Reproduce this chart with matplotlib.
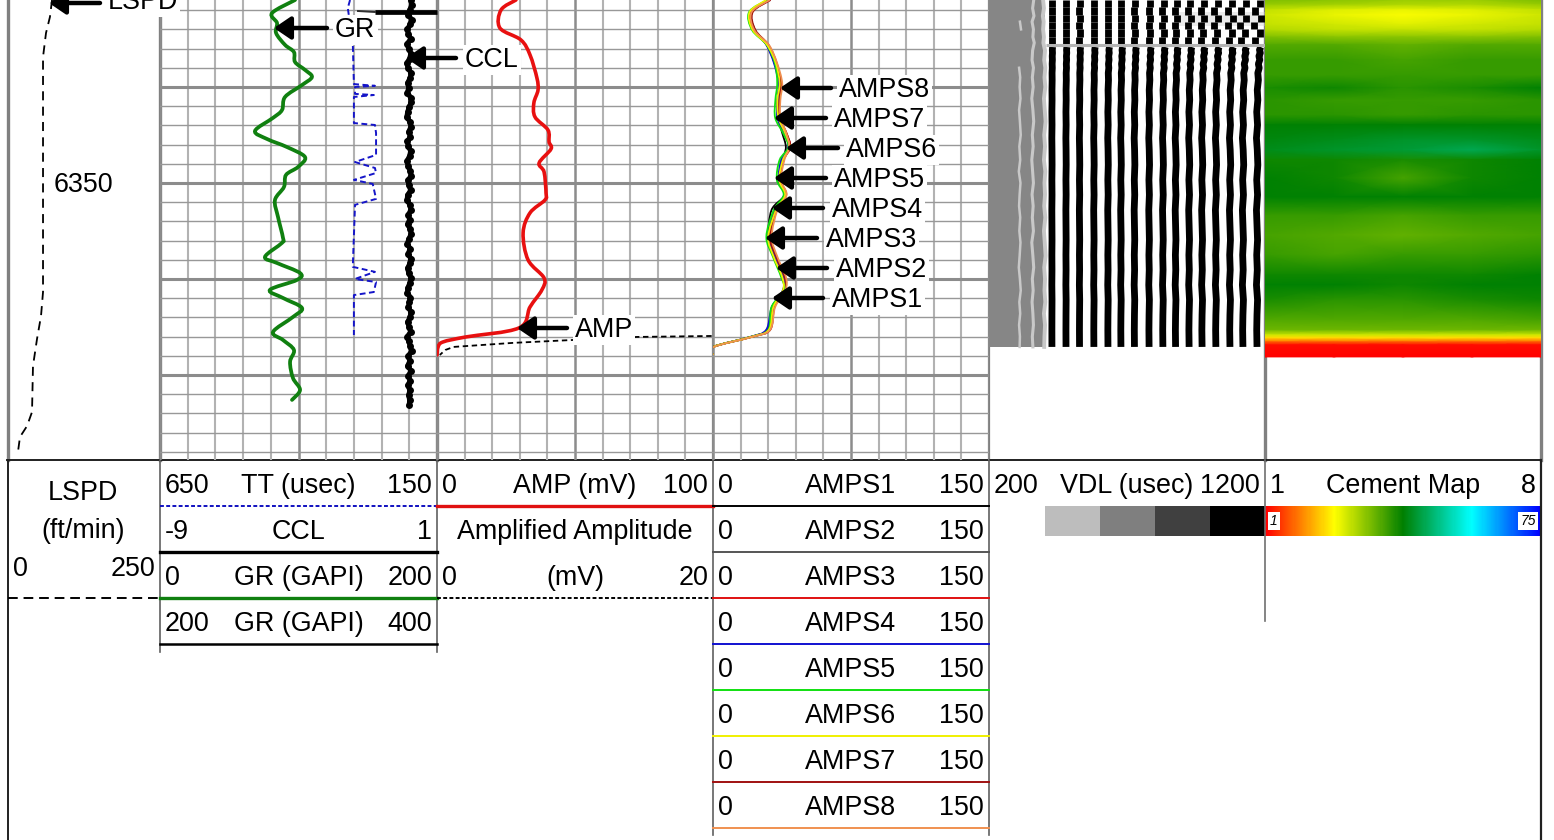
import numpy as np
import matplotlib
matplotlib.use("Agg")
import matplotlib.pyplot as plt
from matplotlib.colors import LinearSegmentedColormap
from matplotlib.patches import PathPatch
from matplotlib.path import Path

plt.rcParams['font.family'] = ['Liberation Sans', 'DejaVu Sans']

W, H = 1554, 840
LOG_BOTTOM = 460
DEPTH_TOP, DEPTH_BOTTOM = 6254.7, 6494.3

# LSPD (ft/min)
lspd_depth = [6254.7, 6263.5, 6271.9, 6284.4, 6298.0, 6374.0, 6406.8, 6419.3,
              6431.3, 6445.3, 6469.3, 6476.6, 6482.3, 6490.1]
lspd = [72.4, 69.0, 62.5, 57.6, 57.6, 57.6, 57.6, 54.3, 47.7, 41.1, 39.5,
        31.3, 19.7, 16.4]

# GR (GAPI), 0-200
gr_depth = [6254.7, 6261.5, 6266.7, 6271.9, 6278.1, 6281.8, 6287.0, 6291.1,
            6294.8, 6299.0, 6305.2, 6312.0, 6316.1, 6322.9, 6327.1, 6331.3,
            6336.5, 6341.7, 6345.8, 6352.1, 6358.9, 6367.7, 6378.6, 6381.2,
            6388.5, 6391.7, 6396.9, 6400.5, 6405.7, 6409.9, 6415.1, 6419.8,
            6427.6, 6431.8, 6437.0, 6443.2, 6451.6, 6457.8, 6463.0]
gr = [97.5, 80.9, 84.5, 83.8, 90.3, 96.7, 97.5, 104.7, 109.7, 102.5, 90.3,
      88.1, 81.6, 68.6, 77.3, 91.7, 104.7, 99.6, 91.0, 89.5, 83.0, 85.2, 88.8,
      88.1, 75.8, 84.5, 101.1, 98.9, 79.4, 88.8, 102.5, 96.0, 81.6, 88.8, 96.7,
      93.9, 96.0, 101.1, 95.3]

# TT (usec), 650-150
tt_depth = [6254.7, 6258.9, 6277.1, 6298.5, 6299.4, 6300.0, 6303.6, 6304.2,
            6305.2, 6318.8, 6319.8, 6324.0, 6335.4, 6339.1, 6342.2, 6344.8,
            6348.4, 6350.5, 6358.3, 6361.4, 6393.7, 6396.3, 6400.0, 6401.6,
            6406.8, 6408.4, 6429.2]
tt = [307, 311, 302, 300, 262, 298, 298, 264, 300, 300, 262, 260, 260, 298,
      262, 260, 300, 266, 260, 298, 302, 262, 298, 260, 264, 300, 300]

# CCL, -9 to 1
ccl = [0.06, 0.09, 0.02, -0.04, 0.08, 0.03, -0.07, -0.03, 0.05, -0.08, -0.02,
       0.06, 0.01, -0.09, -0.04, 0.07, 0.03, -0.06, -0.02, -0.07, 0.05, 0.07,
       -0.01, -0.06, -0.09, 0.03, 0.06, -0.02, 0.04, -0.07, -0.03, 0.05, 0.01,
       -0.08, -0.04, 0.03, 0.07, -0.05, -0.01, 0.05, -0.06, -0.08, 0.02, 0.06,
       -0.03, 0.01, -0.06, 0.04, 0.07, -0.02, -0.07, 0.03, -0.04, 0.05, 0.02,
       -0.06, -0.02, 0.07, 0.02, -0.05, -0.07, 0.04, 0.00, -0.03, 0.06, 0.03,
       -0.06, -0.01, 0.05, -0.07, -0.02, 0.04, 0.08, -0.04, 0.02, -0.06, 0.06,
       -0.03, 0.03, -0.05, 0.02, -0.02, 0.01, 0.00]

# AMP (mV), 0-100 and amplified amplitude, 0-20
amp_depth = [6254.7, 6259.9, 6269.3, 6275.5, 6283.3, 6295.3, 6301.6, 6308.3,
             6315.6, 6322.4, 6328.6, 6332.3, 6339.6, 6344.3, 6355.2, 6358.9,
             6365.6, 6376.0, 6390.1, 6399.5, 6405.7, 6414.6, 6425.5, 6430.2,
             6432.8, 6435.4, 6439.6]
amp = [28.6, 23.2, 22.8, 30.4, 33.7, 36.2, 36.6, 35.1, 35.5, 40.2, 40.6, 41.3,
       37.0, 38.8, 39.5, 39.1, 33.7, 31.2, 33.0, 38.8, 38.0, 33.7, 29.7, 10.5,
       2.2, 0.4, 0.0]
amp2_depth = [6429.7, 6430.2, 6431.8, 6433.3, 6435.4, 6437.0, 6439.6]
amp2 = [19.9, 14.5, 9.8, 5.5, 1.2, 0.6, 0.2]

# AMPS1-8, 0-150
amps_depth = [6254.7, 6261.0, 6270.3, 6278.1, 6287.5, 6297.9, 6306.8, 6316.1,
              6323.9, 6331.3, 6338.0, 6348.4, 6356.2, 6364.1, 6378.1, 6388.5,
              6398.9, 6405.7, 6414.6, 6426.5, 6430.2, 6435.4, 6439.6]
amps1 = [30.9, 21.2, 22.6, 29.2, 33.4, 36.0, 35.0, 35.4, 37.6, 39.6, 37.8,
         35.6, 38.8, 31.8, 30.2, 33.2, 38.0, 38.6, 32.2, 29.4, 20.4, 0.2, 0.0]
amps2 = [30.2, 21.0, 22.9, 29.8, 34.2, 36.6, 35.6, 35.7, 39.6, 41.1, 37.2,
         36.2, 39.4, 33.3, 30.8, 34.0, 38.5, 38.0, 32.9, 30.7, 20.9, 0.1, 0.0]
amps3 = [30.6, 20.4, 22.0, 30.0, 34.0, 36.9, 36.2, 36.0, 39.8, 42.0, 38.4,
         36.8, 39.6, 34.2, 31.2, 34.6, 39.2, 39.0, 33.0, 30.2, 20.6, 0.0, 0.0]
amps4 = [29.8, 20.8, 22.5, 29.0, 33.1, 35.6, 35.2, 35.0, 38.8, 40.9, 37.0,
         35.8, 38.6, 34.0, 30.0, 33.5, 38.1, 38.2, 32.0, 28.9, 20.1, 0.3, 0.0]
amps5 = [29.4, 19.6, 21.2, 29.2, 33.6, 34.9, 33.9, 33.8, 38.0, 41.0, 36.2,
         34.7, 38.4, 33.0, 29.0, 32.6, 37.0, 38.6, 31.8, 30.0, 20.4, 0.1, 0.0]
amps6 = [28.9, 19.9, 21.6, 29.4, 34.1, 36.2, 35.0, 35.6, 39.2, 41.6, 38.0,
         36.0, 39.2, 34.3, 30.0, 33.0, 37.6, 38.1, 32.8, 30.4, 20.8, 0.2, 0.0]
amps7 = [31.3, 21.6, 23.0, 30.2, 34.6, 37.0, 36.1, 36.3, 39.9, 42.0, 38.3,
         36.5, 39.8, 34.6, 31.1, 34.4, 38.9, 39.0, 33.4, 31.1, 21.2, 0.3, 0.0]
amps8 = [30.8, 21.0, 22.4, 30.4, 34.8, 37.6, 36.6, 36.7, 39.8, 41.4, 38.8,
         37.0, 40.0, 35.0, 31.9, 35.0, 39.6, 39.4, 33.8, 31.0, 21.0, 0.4, 0.0]

# VDL arrivals (usec) and their shift with depth
vdl_arrivals = [428, 479, 528, 580, 631, 678, 727, 780, 830, 876, 925, 972,
                1022, 1073, 1120, 1171]
vdl_depth = [6279.2, 6280.7, 6282.3, 6283.9, 6285.9, 6288.0, 6290.1, 6292.7,
             6296.4, 6301.6, 6306.8, 6313.0, 6319.8, 6326.6, 6332.8, 6340.6,
             6348.4, 6356.2, 6364.1, 6371.9, 6379.7, 6387.5, 6395.3, 6403.1,
             6410.9, 6418.7, 6426.6, 6435.4]
vdl_shift = [14, 9, 12, 7, 10, 5, 8, 3, 5, 1, 3, -1, 2, -2, 1, 3, -1, 2, -2, 0,
             2, -1, 1, -2, 2, 0, -1, 0]
vdl_top_depth = [6254.7, 6258.5, 6262.3, 6266.1, 6270.0, 6273.8, 6277.6]
vdl_top_shift = [12, -9, 14, -11, 10, -7]
vdl_pale_depth = [6254.7, 6259, 6263, 6266, 6270, 6274, 6277, 6281, 6286, 6290,
                  6295, 6300, 6306, 6312, 6318, 6325, 6331, 6338, 6344, 6350,
                  6356, 6362, 6368, 6375, 6381, 6388, 6394, 6400, 6406, 6412,
                  6418, 6424, 6430, 6435.4]
vdl_pale1 = [np.nan, 309, np.nan, 312, 316, np.nan, np.nan, 311, np.nan, 309,
             313, 311, 314, 309, 312, 315, 310, 313, 308, 314, 311, 309, 313,
             310, 314, 311, 308, 312, 315, 310, 313, 309, 312, 311]
vdl_pale2 = [362, 358, 363, 356, 361, 359, 364, 358, 356, 361, 357, 360, 355,
             359, 362, 357, 360, 355, 358, 361, 356, 360, 357, 361, 355, 359,
             362, 357, 360, 356, 359, 361, 357, 359]
vdl_pale3 = [396, 399, 395, 398, 396, 399, 397, 403, 400, 404, 401, 404, 399,
             402, 405, 400, 403, 399, 404, 401, 403, 400, 404, 399, 402, 405,
             400, 403, 401, 404, 399, 403, 401, 400]

# Cement map, 1-75, one row per depth
cement_depth = [6254.7, 6257.3, 6259.9, 6262.5, 6267.7, 6270.3, 6274.0, 6278.1,
                6285.9, 6293.8, 6300.5, 6306.8, 6314.6, 6319.8, 6327.6, 6332.8,
                6338.0, 6347.4, 6357.3, 6366.7, 6377.1, 6387.5, 6397.9, 6403.1,
                6410.9, 6421.4, 6426.6, 6429.2, 6430.7, 6432.8, 6434.4, 6440.6]
cement_col1 = [29, 27, 24, 23, 24, 25, 29, 32, 34, 34, 36, 35, 35, 38, 39, 40,
               37, 38, 38, 34, 33, 34, 37, 38, 36, 32, 30, 23, 17, 8, 2, 1]
cement_col2 = [28, 26, 22, 21, 23, 24, 28, 32, 34, 34, 37, 34, 35, 38, 40, 41,
               37, 37, 38, 34, 32, 33, 37, 38, 35, 32, 30, 23, 17, 8, 2, 1]
cement_col3 = [27, 25, 21, 20, 22, 24, 28, 31, 33, 34, 35, 34, 34, 38, 41, 42,
               36, 33, 38, 33, 31, 34, 37, 37, 35, 32, 30, 23, 17, 8, 2, 1]
cement_col4 = [27, 25, 22, 21, 23, 24, 28, 32, 34, 34, 36, 34, 35, 38, 41, 44,
               37, 37, 38, 34, 32, 34, 37, 38, 36, 32, 30, 23, 17, 8, 2, 1]
cement_col5 = [29, 27, 24, 23, 24, 25, 29, 32, 34, 34, 38, 35, 35, 38, 40, 41,
               38, 38, 38, 34, 33, 35, 38, 38, 37, 33, 30, 23, 17, 8, 2, 1]

vdl_legend = ['#bdbdbd', '#7f7f7f', '#404040', '#000000']
amps_colors = ['#000000', '#555555', '#e01010', '#1010d0', '#10e010',
               '#f0f000', '#a01010', '#f09050']


def track(left, right, xlim):
    ax = fig.add_axes([left / W, (H - LOG_BOTTOM) / H, (right - left) / W,
                       LOG_BOTTOM / H], zorder=2, facecolor='none')
    ax.set_xlim(*xlim)
    ax.set_ylim(DEPTH_BOTTOM, DEPTH_TOP)
    ax.axis('off')
    return ax


def depth_grid(ax):
    ax.axis('on')
    for s in ax.spines.values():
        s.set_visible(False)
    ax.tick_params(which='both', length=0, labelbottom=False, labelleft=False)
    lo, hi = ax.get_xlim()
    ax.set_xticks(np.linspace(lo, hi, 3))
    ax.set_xticks(np.linspace(lo, hi, 11), minor=True)
    ax.set_yticks(np.arange(6300, 6451, 50))
    ax.set_yticks(np.arange(6260, 6491, 10), minor=True)
    ax.grid(which='minor', axis='x', color='#b2b2b2', lw=1.5)
    ax.grid(which='minor', axis='y', color='#989898', lw=1.0)
    ax.grid(which='major', axis='x', color='#8c8c8c', lw=1.8)
    ax.grid(which='major', axis='y', color='#8c8c8c', lw=2.2)
    ax.set_axisbelow(True)


def curve(ax, xs, ys, **kw):
    # smooth pen stroke through the read points
    pts = np.column_stack([xs, ys])
    verts = [pts[0]]
    codes = [Path.MOVETO]
    n = len(pts)
    for i in range(n - 1):
        p0, p1 = pts[max(i - 1, 0)], pts[i]
        p2, p3 = pts[i + 1], pts[min(i + 2, n - 1)]
        verts += [p1 + (p2 - p0) / 6, p2 - (p3 - p1) / 6, p2]
        codes += [Path.CURVE4] * 3
    ax.add_patch(PathPatch(Path(verts, codes), fill=False, **kw))


fig = plt.figure(figsize=(W / 100, H / 100), dpi=100)

# page: header text, rules and track borders, in pixels
page = fig.add_axes([0, 0, 1, 1], zorder=1)
page.set_xlim(0, W)
page.set_ylim(H, 0)
page.axis('off')

fs = 19.4
for x in (8, 160, 437, 713, 989, 1265, 1541):
    lw = 2.4 if x in (8, 160, 437, 1265, 1541) else 1.6
    page.plot([x, x], [0, LOG_BOTTOM], color='#808080', lw=lw)
page.plot([7, 1541], [LOG_BOTTOM, LOG_BOTTOM], color='#202020', lw=1.4)
page.plot([7.5, 7.5], [LOG_BOTTOM, H], color='#202020', lw=1.4)
page.plot([1541, 1541], [LOG_BOTTOM, H], color='#202020', lw=1.6)
page.plot([160, 160], [LOG_BOTTOM, 652], color='#606060', lw=1.2)
page.plot([437, 437], [LOG_BOTTOM, 652], color='#606060', lw=1.2)
page.plot([713, 713], [LOG_BOTTOM, 835], color='#606060', lw=1.2)
page.plot([989, 989], [LOG_BOTTOM, 835], color='#606060', lw=1.2)
page.plot([1265, 1265], [LOG_BOTTOM, 621], color='#707070', lw=1.2)

rows = [486, 532, 578, 624, 670, 716, 762, 808]
rules = [506, 552, 598, 644, 690, 736, 782, 828]


def header(left, right, row, lo, name, hi):
    y = rows[row]
    page.text(left + 5, y, lo, fontsize=fs, ha='left', va='center')
    page.text((left + right) / 2, y, name, fontsize=fs, ha='center', va='center')
    page.text(right - 5, y, hi, fontsize=fs, ha='right', va='center')


page.text(83, 493, 'LSPD', fontsize=fs, ha='center', va='center')
page.text(83, 531, '(ft/min)', fontsize=fs, ha='center', va='center')
page.text(13, 569, '0', fontsize=fs, ha='left', va='center')
page.text(155, 569, '250', fontsize=fs, ha='right', va='center')
page.plot([8, 160], [598, 598], color='k', lw=1.4, dashes=(5, 3))
page.text(54, 185, '6350', fontsize=fs, ha='left', va='center')

header(160, 437, 0, '650', 'TT (usec)', '150')
header(160, 437, 1, '-9', 'CCL', '1')
header(160, 437, 2, '0', 'GR (GAPI)', '200')
header(160, 437, 3, '200', 'GR (GAPI)', '400')
page.plot([160, 437], [506, 506], color='#1010c0', lw=1.4, dashes=(2, 1.2))
page.plot([160, 437], [552, 552], color='k', lw=2.4)
page.plot([160, 437], [598, 598], color='#108010', lw=2.4)
page.plot([160, 437], [644, 644], color='k', lw=1.8)

header(437, 713, 0, '0', 'AMP (mV)', '100')
page.text(575, 532, 'Amplified Amplitude', fontsize=fs, ha='center', va='center')
header(437, 713, 2, '0', '(mV)', '20')
page.plot([437, 713], [506, 506], color='#e01010', lw=2.4)
page.plot([437, 713], [598, 598], color='k', lw=1.4, dashes=(2, 1.2))

for i, c in enumerate(amps_colors):
    header(713, 989, i, '0', f'AMPS{i + 1}', '150')
    page.plot([713, 989], [rules[i], rules[i]], color=c, lw=1.4)

header(989, 1265, 0, '200', 'VDL (usec)', '1200')
header(1265, 1541, 0, '1', 'Cement Map', '8')

for i, c in enumerate(vdl_legend):
    page.bar(1045 + i * 55 + 27.5, 30, width=55, bottom=506, color=c)

cement_cmap = LinearSegmentedColormap.from_list(
    'cement', [(0, '#ff0000'), (0.25, '#ffff00'), (0.5, '#008000'),
               (0.75, '#00ffff'), (1, '#0000ff')])
page.imshow(np.linspace(1, 75, 276)[None, :], cmap=cement_cmap, vmin=1, vmax=75,
            extent=(1265, 1541, 536, 506), aspect='auto')
page.set_xlim(0, W)
page.set_ylim(H, 0)
white_box = dict(facecolor='white', edgecolor='none', pad=1.5)
page.text(1274, 521, '1', fontsize=10, style='italic', ha='center', va='center',
          bbox=white_box)
page.text(1528, 521, '75', fontsize=10, style='italic', ha='center', va='center',
          bbox=white_box)

# LSPD track
ax = track(8, 160, (0, 250))
ax.plot(lspd, lspd_depth, color='k', lw=1.3, dashes=(5, 3.5))

# TT / CCL / GR track
ax = track(160, 437, (0, 200))
depth_grid(ax)
curve(ax, gr, gr_depth, edgecolor='#108010', lw=2.7, capstyle='round')
ax2 = track(160, 437, (650, 150))
ax2.plot(tt, tt_depth, color='#1515c8', lw=1.4, dashes=(3, 1.8))
ax3 = track(160, 437, (-9, 1))
ccl_depth = np.linspace(6254.7, 6465.6, len(ccl))
ax3.plot(ccl, ccl_depth, color='k', lw=3.6, marker='o', ms=5.0, mew=0)

# AMP track
ax = track(437, 713, (0, 100))
depth_grid(ax)
curve(ax, amp, amp_depth, edgecolor='#e81010', lw=2.6, capstyle='round')
ax2 = track(437, 713, (0, 20))
ax2.plot(amp2, amp2_depth, color='k', lw=1.3, dashes=(3, 2))

# AMPS track
ax = track(713, 989, (0, 150))
depth_grid(ax)
for vals, c in zip([amps1, amps2, amps4, amps3, amps7, amps5, amps6, amps8],
                   ['#000000', '#555555', '#1010d0', '#e01010', '#a01010',
                    '#10e010', '#f0f000', '#f09050']):
    curve(ax, vals, amps_depth, edgecolor=c, lw=1.3)

# VDL track
ax = track(989, 1265, (200, 1200))
ax.fill_betweenx([DEPTH_TOP, vdl_depth[-1]], 200, 403, color='#868686', lw=0)
for pale, lw in ((vdl_pale1, 1.8), (vdl_pale2, 2.2), (vdl_pale3, 2.8)):
    ax.plot(pale, vdl_pale_depth, color='#c8c8c8', lw=lw)
for i, t in enumerate(vdl_arrivals):
    f = (i + 3) / 18
    ax.plot([t + s * f for s in vdl_shift], vdl_depth, color='k', lw=4.9,
            solid_capstyle='butt')
    for j, s in enumerate(vdl_top_shift):
        ax.vlines(t + s * f ** 3, vdl_top_depth[j], vdl_top_depth[j + 1],
                  color='k', lw=4.9)
ax.fill_betweenx([6261, 6268], 880, 1200, color='#c8c8c8', alpha=0.35, lw=0)
ax.hlines(6278.1, 405, 1200, color='#b4b4b4', lw=2.2)

# Cement track
ax = track(1265, 1541, (0, 4))
cement = np.array([cement_col1, cement_col2, cement_col3, cement_col4,
                   cement_col5]).T
ax.pcolormesh(np.arange(5), cement_depth, cement, cmap=cement_cmap, vmin=1,
              vmax=75, shading='gouraud')
ax.set_xlim(0, 4)
ax.set_ylim(DEPTH_BOTTOM, DEPTH_TOP)

# callouts on top of every track
over = fig.add_axes([0, 0, 1, 1], zorder=5, facecolor='none')
over.set_xlim(0, W)
over.set_ylim(H, 0)
over.axis('off')

callout_names = ['LSPD', 'GR', 'CCL', 'AMP', 'AMPS8', 'AMPS7', 'AMPS6', 'AMPS5',
                 'AMPS4', 'AMPS3', 'AMPS2', 'AMPS1']
callout_tips = [52, 277, 409, 520, 783, 777, 789, 777, 775, 768, 779, 775]
callout_tails = [100, 327, 456, 567, 831, 826, 838, 826, 823, 817, 827, 823]
callout_text = [108, 335, 465, 575, 839, 834, 846, 834, 832, 826, 836, 832]
callout_y = [3, 28, 58, 328, 88, 118, 148, 178, 208, 238, 268, 298]

for name, tip, tail, tx, y in zip(callout_names, callout_tips, callout_tails,
                                  callout_text, callout_y):
    over.text(tx, y - 1 if name == 'LSPD' else y + 2, name, fontsize=fs, ha='left',
              va='center', bbox=dict(facecolor='white', edgecolor='none', pad=1.5))
    over.annotate('', xy=(tip - 3, y), xytext=(tail, y),
                  arrowprops=dict(arrowstyle='-|>,head_length=0.5,head_width=0.34',
                                  color='k', lw=3.2, mutation_scale=20,
                                  shrinkA=0, shrinkB=0))
over.plot([375, 437], [12, 12], color='k', lw=3.4, solid_capstyle='butt')
over.plot([358, 375], [11, 12], color='#303030', lw=1.4)

fig.savefig('out.png', dpi=100)
